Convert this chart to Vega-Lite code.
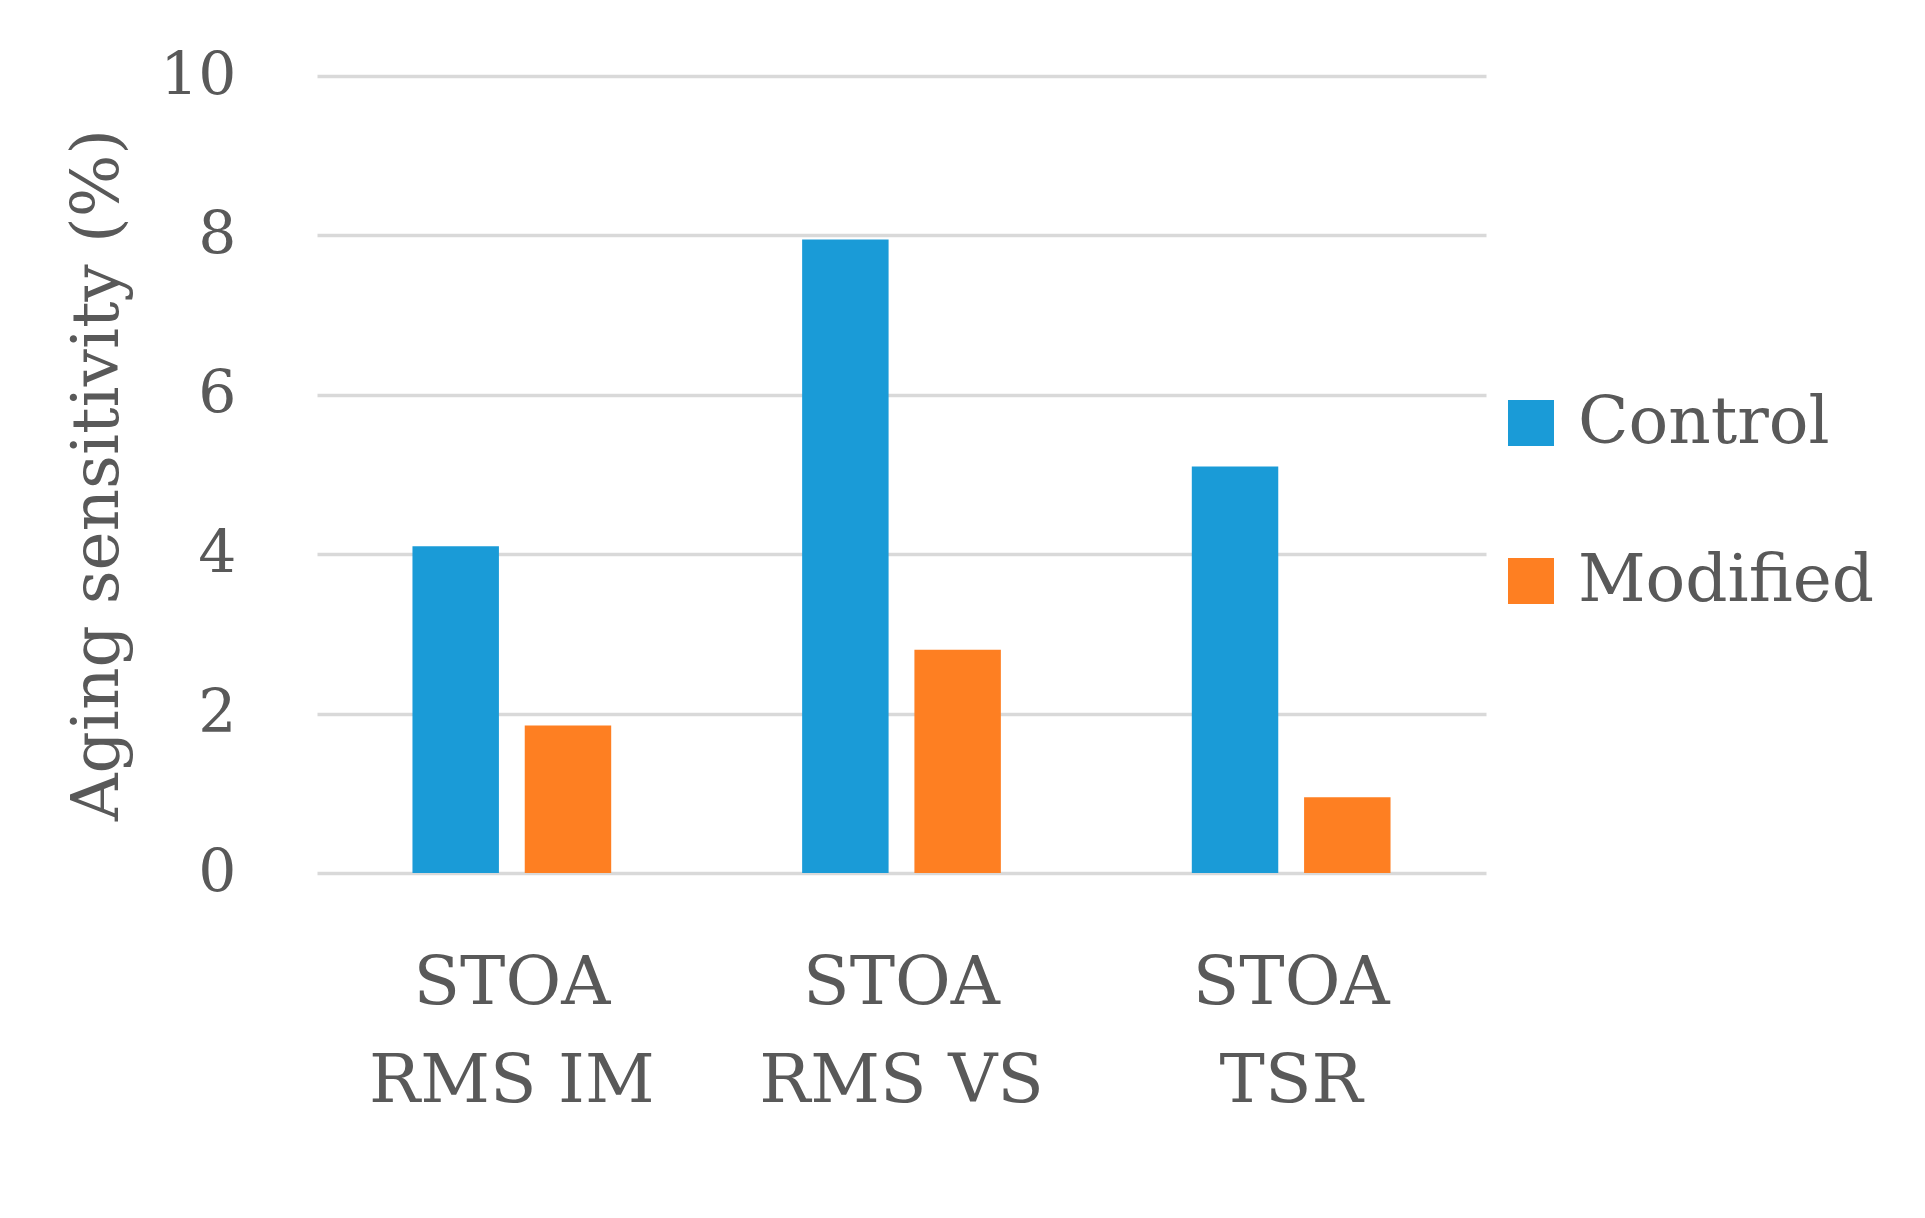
{
  "$schema": "https://vega.github.io/schema/vega-lite/v6.json",
  "width": 1169,
  "height": 797,
  "autosize": {"type": "none"},
  "padding": {"left": 317, "top": 76, "right": 439, "bottom": 345},
  "background": "white",
  "data": {
    "values": [
      {"measure": "STOA|RMS IM", "group": "Control", "value": 4.1},
      {"measure": "STOA|RMS IM", "group": "Modified", "value": 1.85},
      {"measure": "STOA|RMS VS", "group": "Control", "value": 7.95},
      {"measure": "STOA|RMS VS", "group": "Modified", "value": 2.8},
      {"measure": "STOA|TSR", "group": "Control", "value": 5.1},
      {"measure": "STOA|TSR", "group": "Modified", "value": 0.95}
    ]
  },
  "mark": {"type": "bar"},
  "encoding": {
    "x": {
      "field": "measure",
      "type": "nominal",
      "sort": null,
      "scale": {"paddingInner": 0.49, "paddingOuter": 0.245},
      "axis": {
        "title": null,
        "labelAngle": 0,
        "domain": false,
        "ticks": false,
        "grid": false,
        "labelExpr": "split(datum.label, '|')",
        "labelFont": "DejaVu Serif",
        "labelFontSize": 68,
        "labelColor": "#595959",
        "labelLimit": 0,
        "labelPadding": 76,
        "labelLineHeight": 98
      }
    },
    "xOffset": {
      "field": "group",
      "sort": ["Control", "Modified"],
      "scale": {"paddingInner": 0.23, "paddingOuter": 0}
    },
    "y": {
      "field": "value",
      "type": "quantitative",
      "scale": {"domain": [0, 10], "nice": false},
      "axis": {
        "title": "Aging sensitivity (%)",
        "values": [0, 2, 4, 6, 8, 10],
        "domain": false,
        "ticks": false,
        "grid": true,
        "gridColor": "#d9d9d9",
        "gridWidth": 3.5,
        "labelFont": "DejaVu Serif",
        "labelFontSize": 60,
        "labelColor": "#595959",
        "labelPadding": 81,
        "titleFont": "DejaVu Serif",
        "titleFontSize": 66,
        "titleFontWeight": "normal",
        "titleColor": "#595959",
        "titlePadding": 28
      }
    },
    "color": {
      "field": "group",
      "type": "nominal",
      "scale": {"domain": ["Control", "Modified"], "range": ["#1a9bd7", "#fe7f22"]},
      "legend": {
        "title": null,
        "orient": "none",
        "legendX": 1181,
        "legendY": 314,
        "symbolType": "square",
        "symbolSize": 2116,
        "symbolStrokeWidth": 0,
        "symbolOpacity": 1,
        "labelFont": "DejaVu Serif",
        "labelFontSize": 66,
        "labelColor": "#595959",
        "labelLimit": 0,
        "labelOffset": 14,
        "rowPadding": 92
      }
    }
  },
  "config": {
    "view": {"stroke": null}
  }
}
